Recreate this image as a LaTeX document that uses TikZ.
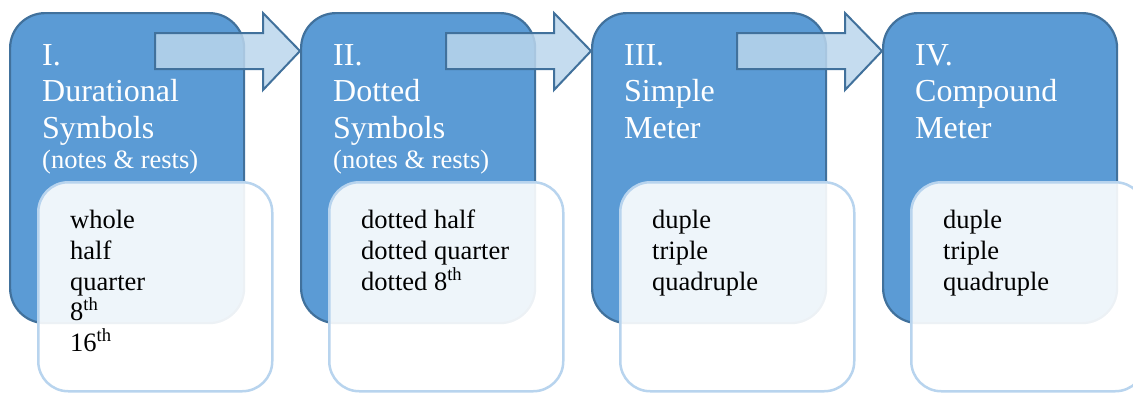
\documentclass[tikz,border=0pt]{standalone}
\usepackage{fontspec}
\setmainfont{Liberation Serif}
\usetikzlibrary{calc}
\definecolor{boxblue}{RGB}{91,155,213}
\definecolor{boxedge}{RGB}{65,113,156}
\definecolor{arrowfill}{RGB}{187,214,236}
\definecolor{subedge}{RGB}{184,212,238}
\tikzset{
  mainbox/.style={draw=boxedge, fill=boxblue, line width=2.2pt, rounded corners=35pt,
    minimum width=234pt, minimum height=310pt, anchor=north west, inner sep=0pt},
  subbox/.style={draw=subedge, fill=white, fill opacity=0.9, line width=2.5pt, rounded corners=30pt,
    minimum width=234pt, minimum height=209pt, anchor=north west, inner sep=0pt},
  blockarrow/.style={draw=boxedge, fill=arrowfill, fill opacity=0.85, line width=2pt, line join=miter},
  titletext/.style={text=white, font=\fontsize{32}{36}\selectfont, anchor=base west, inner sep=0pt},
  subtitletext/.style={text=white, font=\fontsize{26.5}{30}\selectfont, anchor=base west, inner sep=0pt},
  itemtext/.style={text=black, font=\fontsize{26.5}{31}\selectfont, anchor=base west, inner sep=0pt},
}
\begin{document}
\begin{tikzpicture}[x=1pt, y=-1pt]
\useasboundingbox (0,0) rectangle (1133,392);
\clip (0,0) rectangle (1133,392);
% main boxes
\node[mainbox] (b1) at (9,12) {};
\node[mainbox] (b2) at (300,12) {};
\node[mainbox] (b3) at (591,12) {};
\node[mainbox] (b4) at (882,12) {};
% block arrows
\foreach \t in {b2,b3,b4}{
  \draw[blockarrow] ($(\t.north west)+(0,39)$) -- ($(\t.north west)+(-37,1)$) -- ($(\t.north west)+(-37,21)$)
    -- ($(\t.north west)+(-145,21)$) -- ($(\t.north west)+(-145,57)$) -- ($(\t.north west)+(-37,57)$)
    -- ($(\t.north west)+(-37,78)$) -- cycle;
}
% sub boxes
\node[subbox] (s1) at (37,181) {};
\node[subbox] (s2) at (328,181) {};
\node[subbox] (s3) at (619,181) {};
\node[subbox] (s4) at (910,181) {};
% titles
\node[titletext] (t1a) at (42,65) {I.};
\node[titletext] (t1b) at (42,101) {Durational};
\node[titletext] (t1c) at (42,138) {Symbols};
\node[subtitletext] (t1d) at (42,168) {(notes \& rests)};
\node[titletext] (t2a) at (333,65) {II.};
\node[titletext] (t2b) at (333,101) {Dotted};
\node[titletext] (t2c) at (333,138) {Symbols};
\node[subtitletext] (t2d) at (333,168) {(notes \& rests)};
\node[titletext] (t3a) at (624,65) {III.};
\node[titletext] (t3b) at (624,101) {Simple};
\node[titletext] (t3c) at (624,138) {Meter};
\node[titletext] (t4a) at (915,65) {IV.};
\node[titletext] (t4b) at (915,101) {Compound};
\node[titletext] (t4c) at (915,138) {Meter};
% items
\node[itemtext] (i1a) at (70,228) {whole};
\node[itemtext] (i1b) at (70,259) {half};
\node[itemtext] (i1c) at (70,290) {quarter};
\node[itemtext] (i1d) at (70,320) {8\textsuperscript{th}};
\node[itemtext] (i1e) at (70,351) {16\textsuperscript{th}};
\node[itemtext] (i2a) at (361,228) {dotted half};
\node[itemtext] (i2b) at (361,259) {dotted quarter};
\node[itemtext] (i2c) at (361,290) {dotted 8\textsuperscript{th}};
\node[itemtext] (i3a) at (652,228) {duple};
\node[itemtext] (i3b) at (652,259) {triple};
\node[itemtext] (i3c) at (652,290) {quadruple};
\node[itemtext] (i4a) at (943,228) {duple};
\node[itemtext] (i4b) at (943,259) {triple};
\node[itemtext] (i4c) at (943,290) {quadruple};
\end{tikzpicture}
\end{document}
